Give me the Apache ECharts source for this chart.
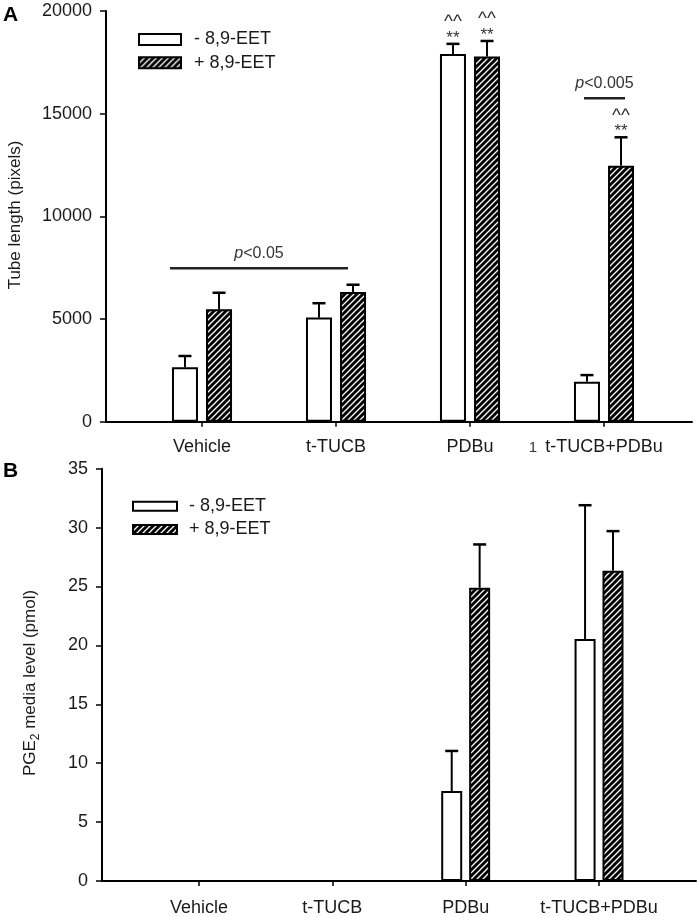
<!DOCTYPE html>
<html><head><meta charset="utf-8">
<script src="https://cdn.jsdelivr.net/npm/echarts@6/dist/echarts.min.js"></script>
<style>html,body{margin:0;padding:0;background:#fff}#c{width:697px;height:917px}</style>
</head><body><div id="c"></div>
<script>
// ---------- data ----------
const categories = ['Vehicle', 't-TUCB', 'PDBu', 't-TUCB+PDBu'];
const seriesNames = ['- 8,9-EET', '+ 8,9-EET'];

// Panel A: tube length (pixels), mean and SD
const tubeMinus = [2650, 5070, 17900, 1950];
const tubeMinusSD = [550, 700, 500, 320];
const tubePlus = [5470, 6320, 17780, 12470];
const tubePlusSD = [810, 350, 760, 1380];
const tubeMinusStars = ['', '', '**', ''];
const tubeMinusCarets = ['', '', '^^', ''];
const tubePlusStars = ['', '', '**', '**'];
const tubePlusCarets = ['', '', '^^', '^^'];
const tubeTicks = [0, 5000, 10000, 15000, 20000];
// significance brackets: [from category, to category, level]
const tubeBrackets = [[0, 1, 7470], [3, 3, 15750]];
const tubeBracketLabels = ['<0.05', '<0.005'];

// Panel B: PGE2 media level (pmol), mean and SD
const pgeMinus = [0, 0, 7.64, 20.54];
const pgeMinusSD = [null, null, 3.4, 11.36];
const pgePlus = [0, 0, 24.9, 26.34];
const pgePlusSD = [null, null, 3.67, 3.36];
const pgeTicks = [0, 5, 10, 15, 20, 25, 30, 35];

// ---------- styling helpers ----------
const FONT = 'Liberation Sans, Arial, sans-serif';
const TXT = '#1a1a1a';
function makeHatch() {
  const s = 6, c = document.createElement('canvas');
  c.width = s; c.height = s;
  const g = c.getContext('2d');
  g.fillStyle = '#000'; g.fillRect(0, 0, s, s);
  g.strokeStyle = '#fff'; g.lineWidth = 1.3;
  g.beginPath();
  g.moveTo(0, s); g.lineTo(s, 0);
  g.moveTo(-1, 1); g.lineTo(1, -1);
  g.moveTo(s - 1, s + 1); g.lineTo(s + 1, s - 1);
  g.stroke();
  return c;
}
const hatch = { image: makeHatch(), repeat: 'repeat' };
const whiteStyle = { color: '#fff', borderColor: '#000', borderWidth: 2 };
const hatchStyle = { color: hatch, borderColor: '#000', borderWidth: 2 };

const barWA = 26, gapA = 0.31, barWB = 21, gapB = 0.33;
const offA = (barWA + barWA * gapA) / 2, offB = (barWB + barWB * gapB) / 2;

function errRender(offset, stars, carets) {
  return function (params, api) {
    const i = api.value(0), m = api.value(1), sd = api.value(2);
    if (!isFinite(sd)) return null;
    const b = api.coord([i, m]), t = api.coord([i, m + sd]);
    const x = b[0] + offset;
    const ch = [
      { type: 'line', shape: { x1: x, y1: b[1], x2: x, y2: t[1] }, style: { stroke: '#000', lineWidth: 2 } },
      { type: 'line', shape: { x1: x - 6.5, y1: t[1], x2: x + 6.5, y2: t[1] }, style: { stroke: '#000', lineWidth: 2.5 } }
    ];
    const idx = params.dataIndex;
    if (stars && stars[idx]) ch.push({ type: 'text', x: x, y: t[1] - 6, style: { text: stars[idx], fontSize: 17, fontFamily: FONT, fill: '#333', align: 'center', verticalAlign: 'middle' } });
    if (carets && carets[idx]) ch.push({ type: 'text', x: x, y: t[1] - 22, style: { text: carets[idx], fontSize: 19, fontFamily: FONT, fill: '#333', align: 'center', verticalAlign: 'middle' } });
    return { type: 'group', children: ch };
  };
}
const bracketOffsets = [[-32, 12], [-20, 21]];
function bracketRender(params, api) {
  const a = api.value(0), b = api.value(1), v = api.value(2);
  const o = bracketOffsets[params.dataIndex];
  const p1 = api.coord([a, v]), p2 = api.coord([b, v]);
  const x1 = p1[0] + o[0], x2 = p2[0] + o[1];
  return { type: 'group', children: [
    { type: 'line', shape: { x1: x1, y1: p1[1], x2: x2, y2: p1[1] }, style: { stroke: '#222', lineWidth: 2.5 } },
    { type: 'text', x: (x1 + x2) / 2, y: p1[1] - 15, style: { text: '{i|p}' + tubeBracketLabels[params.dataIndex], fontSize: 16, fontFamily: FONT, fill: '#333', align: 'center', verticalAlign: 'middle', rich: { i: { fontStyle: 'italic', fontSize: 16, fontFamily: FONT, fill: '#333' } } } }
  ] };
}
function zip(xs, ms, sds) { return xs.map((_, i) => [i, ms[i], sds[i] == null ? NaN : sds[i]]); }

function catAxis(grid, margin) {
  return { type: 'category', gridIndex: grid, data: categories, boundaryGap: true,
    axisLine: { show: false }, splitLine: { show: false },
    axisTick: { show: true, alignWithLabel: true, length: 5, lineStyle: { color: '#000', width: 1.5 } },
    axisLabel: { fontSize: 18, fontFamily: FONT, color: TXT, margin: margin, interval: 0 } };
}
function lineAxis(grid) {
  return { type: 'value', gridIndex: grid, min: 0, max: 1,
    axisLine: { show: true, onZero: false, lineStyle: { color: '#000', width: 2 } },
    axisTick: { show: false }, axisLabel: { show: false }, splitLine: { show: false } };
}
function valAxis(grid, ticks, offset) {
  return { type: 'value', gridIndex: grid, min: ticks[0], max: ticks[ticks.length - 1], interval: ticks[1] - ticks[0], offset: offset,
    axisLine: { show: true, lineStyle: { color: '#000', width: 2 } },
    axisTick: { show: true, inside: false, length: 6, lineStyle: { color: '#000', width: 1.5 } },
    axisLabel: { fontSize: 18, fontFamily: FONT, color: TXT, margin: 14, formatter: v => String(v) },
    splitLine: { show: false } };
}
function hiddenAxis(grid) { return { type: 'value', gridIndex: grid, min: 0, max: 1, show: false }; }

const chart = echarts.init(document.getElementById('c'), null, { renderer: 'canvas' });
chart.setOption({
  backgroundColor: '#fff',
  animation: false,
  grid: [
    { left: 135, right: 26, top: 11, bottom: 495.3, containLabel: false, outerBoundsMode: 'none' },
    { left: 106, right: 5, top: 11, bottom: 495.3, containLabel: false, outerBoundsMode: 'none' },
    { left: 132.3, right: 31.3, top: 468.7, bottom: 36, containLabel: false, outerBoundsMode: 'none' },
    { left: 102, right: 1, top: 468.7, bottom: 36, containLabel: false, outerBoundsMode: 'none' }
  ],
  xAxis: [catAxis(0, 16), lineAxis(1), catAxis(2, 18), lineAxis(3)],
  yAxis: [valAxis(0, tubeTicks, 29), hiddenAxis(1), valAxis(2, pgeTicks, 30.3), hiddenAxis(3)],
  legend: [
    { orient: 'vertical', left: 133, top: 25.5, itemWidth: 42, itemHeight: 11, itemGap: 5.3, selectedMode: false,
      icon: 'rect', textStyle: { fontSize: 18, fontFamily: FONT, color: TXT, padding: [0, 0, 0, 8] },
      data: [{ name: seriesNames[0], itemStyle: whiteStyle }, { name: seriesNames[1], itemStyle: hatchStyle }] },
    { orient: 'vertical', left: 127, top: 492.3, itemWidth: 44, itemHeight: 9, itemGap: 5.2, selectedMode: false,
      icon: 'rect', textStyle: { fontSize: 18, fontFamily: FONT, color: TXT, padding: [0, 0, 0, 7] },
      data: [{ name: seriesNames[0], itemStyle: whiteStyle }, { name: seriesNames[1], itemStyle: hatchStyle }] }
  ],
  graphic: [
    { type: 'text', x: 3, y: 5, style: { text: 'A', fontSize: 21, fontWeight: 'bold', fontFamily: FONT, fill: '#000' } },
    { type: 'text', x: 3, y: 461, style: { text: 'B', fontSize: 21, fontWeight: 'bold', fontFamily: FONT, fill: '#000' } },
    { type: 'text', x: 15, y: 215, rotation: Math.PI / 2, style: { text: 'Tube length (pixels)', fontSize: 17, fontFamily: FONT, fill: TXT, align: 'center', verticalAlign: 'middle' } },
    { type: 'text', x: 30, y: 683, rotation: Math.PI / 2, style: { text: 'PGE{s|2} media level (pmol)', fontSize: 17, fontFamily: FONT, fill: TXT, align: 'center', verticalAlign: 'middle', lineHeight: 24,
        rich: { s: { fontSize: 12, fontFamily: FONT, fill: TXT, verticalAlign: 'bottom', lineHeight: 12 } } } },
    { type: 'text', x: 533, y: 448, style: { text: '1', fontSize: 15, fontFamily: FONT, fill: '#333', align: 'center', verticalAlign: 'middle' } }
  ],
  series: [
    { name: seriesNames[0], type: 'bar', xAxisIndex: 0, yAxisIndex: 0, data: tubeMinus, barWidth: barWA, barGap: (gapA * 100) + '%', itemStyle: whiteStyle },
    { name: seriesNames[1], type: 'bar', xAxisIndex: 0, yAxisIndex: 0, data: tubePlus, barWidth: barWA, barGap: (gapA * 100) + '%', itemStyle: hatchStyle },
    { type: 'custom', xAxisIndex: 0, yAxisIndex: 0, z: 5, data: zip(categories, tubeMinus, tubeMinusSD), renderItem: errRender(-offA, tubeMinusStars, tubeMinusCarets) },
    { type: 'custom', xAxisIndex: 0, yAxisIndex: 0, z: 5, data: zip(categories, tubePlus, tubePlusSD), renderItem: errRender(offA, tubePlusStars, tubePlusCarets) },
    { type: 'custom', xAxisIndex: 0, yAxisIndex: 0, z: 5, data: tubeBrackets, renderItem: bracketRender },
    { name: seriesNames[0], type: 'bar', xAxisIndex: 2, yAxisIndex: 2, data: pgeMinus, barWidth: barWB, barGap: (gapB * 100) + '%', itemStyle: whiteStyle },
    { name: seriesNames[1], type: 'bar', xAxisIndex: 2, yAxisIndex: 2, data: pgePlus, barWidth: barWB, barGap: (gapB * 100) + '%', itemStyle: hatchStyle },
    { type: 'custom', xAxisIndex: 2, yAxisIndex: 2, z: 5, data: zip(categories, pgeMinus, pgeMinusSD), renderItem: errRender(-offB, null, null) },
    { type: 'custom', xAxisIndex: 2, yAxisIndex: 2, z: 5, data: zip(categories, pgePlus, pgePlusSD), renderItem: errRender(offB, null, null) }
  ]
});
</script>
</body></html>
